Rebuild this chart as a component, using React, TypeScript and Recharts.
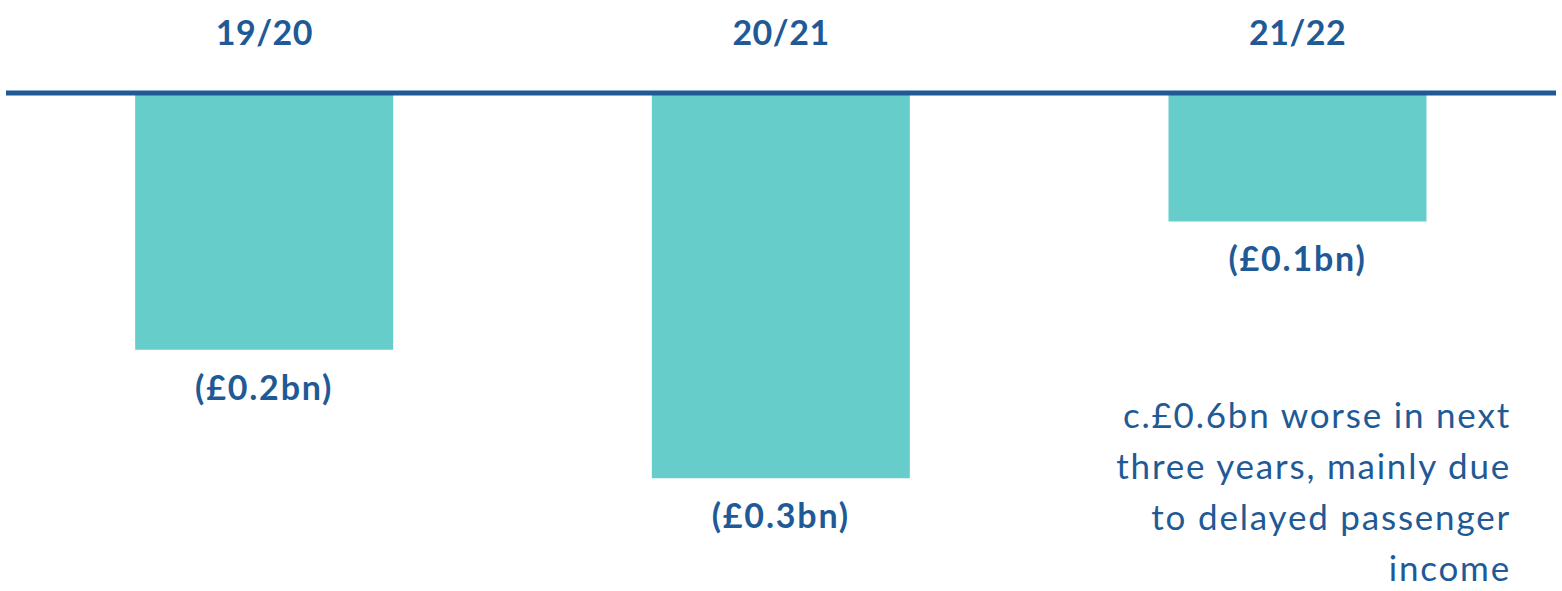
import { Bar, BarChart, LabelList, XAxis, YAxis } from 'recharts';

const years = ['19/20', '20/21', '21/22'];
const deficit = [-0.2, -0.3, -0.1];
const valueLabels = ['(£0.2bn)', '(£0.3bn)', '(£0.1bn)'];
const noteLines = [
    'c.£0.6bn worse in next',
    'three years, mainly due',
    'to delayed passenger',
    'income',
];

const data = years.map((year, i) => ({
    year,
    value: deficit[i],
    label: valueLabels[i],
}));

const BLUE = '#1f5a96';
const TEAL = '#67cdcb';
const FONT = 'Lato, "Open Sans", sans-serif';

function YearTick({ x, y, payload }: any) {
    return (
        <text
            x={x}
            y={y - 40}
            textAnchor="middle"
            fill={BLUE}
            fontFamily={FONT}
            fontWeight={700}
            fontSize={34}
            letterSpacing={0.5}
        >
            {payload.value}
        </text>
    );
}

function ValueLabel(props: any) {
    const { x, y, width, height, index } = props;
    const bottom = Math.max(y, y + height);
    return (
        <text
            x={x + width / 2}
            y={bottom + 50}
            textAnchor="middle"
            fill={BLUE}
            fontFamily={FONT}
            fontWeight={700}
            fontSize={34}
            letterSpacing={1.8}
        >
            {valueLabels[index]}
        </text>
    );
}

export default function App() {
    return (
        <div
            style={{
                position: 'absolute',
                left: 0,
                top: 0,
                width: 1562,
                height: 591,
                background: '#fff',
            }}
        >
            <BarChart
                width={1562}
                height={591}
                data={data}
                margin={{ top: 0, right: 6, left: 6, bottom: 10 }}
                barCategoryGap="25%"
            >
                <XAxis
                    dataKey="year"
                    orientation="top"
                    height={93}
                    tickLine={false}
                    axisLine={{ stroke: BLUE, strokeWidth: 5 }}
                    tick={<YearTick />}
                    interval={0}
                />
                <YAxis hide domain={[-0.38, 0]} type="number" />
                <Bar dataKey="value" fill={TEAL} isAnimationActive={false}>
                    <LabelList dataKey="label" content={<ValueLabel />} />
                </Bar>
            </BarChart>
            <div
                style={{
                    position: 'absolute',
                    right: 1562 - 1511,
                    top: 389,
                    textAlign: 'right',
                    color: BLUE,
                    fontFamily: FONT,
                    fontSize: 35,
                    letterSpacing: '1.8px',
                    lineHeight: '51px',
                    whiteSpace: 'nowrap',
                }}
            >
                {noteLines.map((line) => (
                    <div key={line}>{line}</div>
                ))}
            </div>
        </div>
    );
}
